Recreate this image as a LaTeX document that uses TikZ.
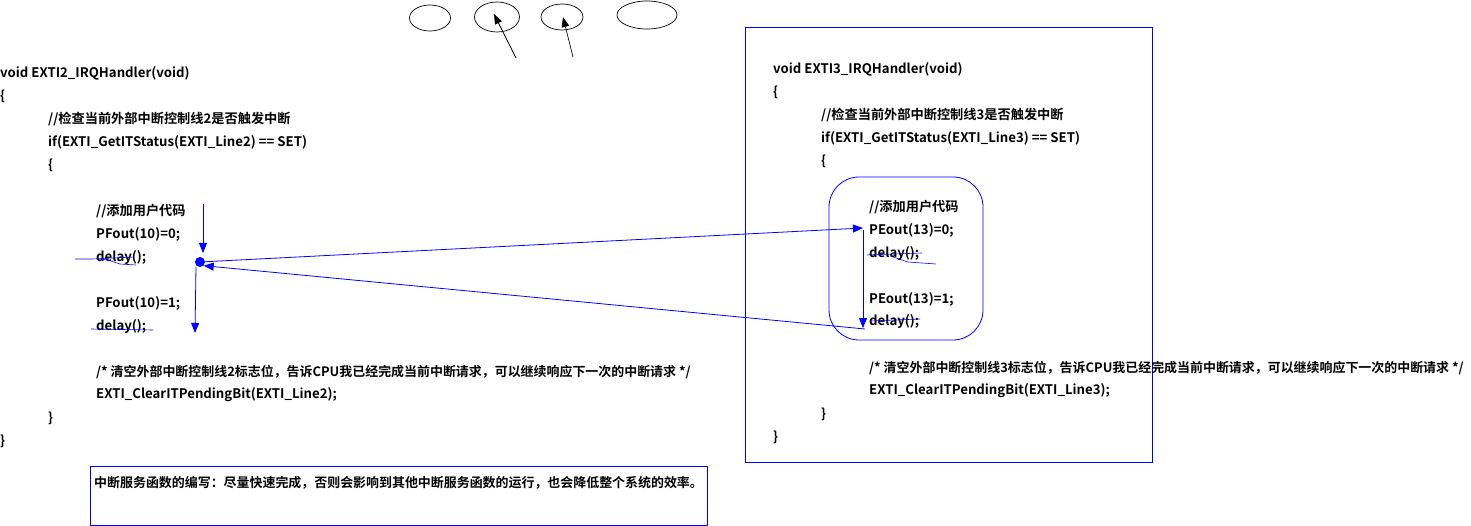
\documentclass[tikz,border=0pt]{standalone}
\usepackage{fontspec}
\setmainfont{Noto Sans CJK SC}[BoldFont={* Bold}]
\usetikzlibrary{arrows.meta,shapes.geometric}
\definecolor{bl}{RGB}{0,0,255}
\begin{document}
\begin{tikzpicture}[x=1pt,y=-1pt,
  code/.style={anchor=west,inner sep=0pt,font=\fontsize{13.2}{15}\selectfont\bfseries},
  longcode/.style={code,font=\fontsize{12.95}{15}\selectfont\bfseries},
  oval/.style={draw=black,ellipse,inner sep=0pt,line width=0.7pt},
  blackarrow/.style={draw=black,line width=0.7pt,-{Triangle[length=10pt,width=7.5pt]}},
  flow/.style={draw=bl,line width=0.8pt,-{Triangle[length=10pt,width=8pt]}},
  squig/.style={draw=bl,line width=0.6pt},
  bluebox/.style={draw=bl,line width=0.8pt}]
\useasboundingbox (0,0) rectangle (1471,526);

% top ovals
\node[oval,minimum width=41pt,minimum height=26pt] (e1) at (430,18) {};
\node[oval,minimum width=45pt,minimum height=30pt] (e2) at (497,17) {};
\node[oval,minimum width=42pt,minimum height=26pt] (e3) at (562,17) {};
\node[oval,minimum width=60pt,minimum height=28pt] (e4) at (647,15) {};
\coordinate (a1) at (516,58);
\coordinate (a1t) at (494,14);
\coordinate (a2) at (573,57);
\coordinate (a2t) at (563,17);
\draw[blackarrow] (a1) -- (a1t);
\draw[blackarrow] (a2) -- (a2t);

% left code
\node[code] (l1) at (0,73) {void EXTI2\_IRQHandler(void)};
\node[code] (l2) at (0,96) {\{};
\node[code] (l3) at (48,119) {//检查当前外部中断控制线2是否触发中断};
\node[code] (l4) at (48,142) {if(EXTI\_GetITStatus(EXTI\_Line2) == SET)};
\node[code] (l5) at (48,165) {\{};
\node[code] (l6) at (96,211) {//添加用户代码};
\node[code] (l7) at (96,234) {PFout(10)=0;};
\node[code] (l8) at (96,257) {delay();};
\node[code] (l9) at (96,303) {PFout(10)=1;};
\node[code] (l10) at (96,326) {delay();};
\node[longcode] (l11) at (96,372) {/* 清空外部中断控制线2标志位，告诉CPU我已经完成当前中断请求，可以继续响应下一次的中断请求 */};
\node[code] (l12) at (96,395) {EXTI\_ClearITPendingBit(EXTI\_Line2);};
\node[code] (l13) at (48,418) {\}};
\node[code] (l14) at (0,441) {\}};

% bottom note box
\draw[bluebox] (90,466) rectangle (707,525);
\node[longcode] (note) at (94,483) {中断服务函数的编写：尽量快速完成，否则会影响到其他中断服务函数的运行，也会降低整个系统的效率。};

% right frame
\draw[bluebox] (745,27) rectangle (1152,462);
\node[code] (r1) at (773,69) {void EXTI3\_IRQHandler(void)};
\node[code] (r2) at (773,92) {\{};
\node[code] (r3) at (821,115) {//检查当前外部中断控制线3是否触发中断};
\node[code] (r4) at (821,138) {if(EXTI\_GetITStatus(EXTI\_Line3) == SET)};
\node[code] (r5) at (821,161) {\{};
\draw[bluebox,rounded corners=30pt] (829,177) rectangle (983,340);
\node[code] (r6) at (869,207) {//添加用户代码};
\node[code] (r7) at (869,230) {PEout(13)=0;};
\node[code] (r8) at (869,253) {delay();};
\node[code] (r9) at (869,299) {PEout(13)=1;};
\node[code] (r10) at (869,321) {delay();};
\node[longcode] (r11) at (869,368) {/* 清空外部中断控制线3标志位，告诉CPU我已经完成当前中断请求，可以继续响应下一次的中断请求 */};
\node[code] (r12) at (869,391) {EXTI\_ClearITPendingBit(EXTI\_Line3);};
\node[code] (r13) at (821,414) {\}};
\node[code] (r14) at (773,437) {\}};

% blue flow
\node[circle,fill=bl,inner sep=0pt,minimum size=10pt] (dot) at (200,262) {};
\coordinate (inTop) at (203,204);
\coordinate (inTip) at (203,253);
\coordinate (goR) at (863,228);
\coordinate (vTop) at (863,230);
\coordinate (vBot) at (863,328);
\coordinate (back) at (865,329);
\coordinate (downS) at (196,267);
\coordinate (downE) at (195,333);
\draw[flow] (inTop) -- (inTip);
\draw[flow] (dot) -- (goR);
\draw[flow] (vTop) -- (vBot);
\draw[flow] (back) -- (dot.south east);
\draw[flow] (downS) -- (downE);

% hand-drawn marks
\draw[squig] (75,259) -- (92,259) -- (134,257);
\draw[squig] (100,259) -- (108,260) -- (120,264) -- (136,265);
\draw[squig] (91,329) -- (153,330);
\draw[squig] (867,255) -- (922,253);
\draw[squig] (893,257) -- (908,262) -- (936,264);
\draw[squig] (870,321) -- (920,319);
\end{tikzpicture}
\end{document}
